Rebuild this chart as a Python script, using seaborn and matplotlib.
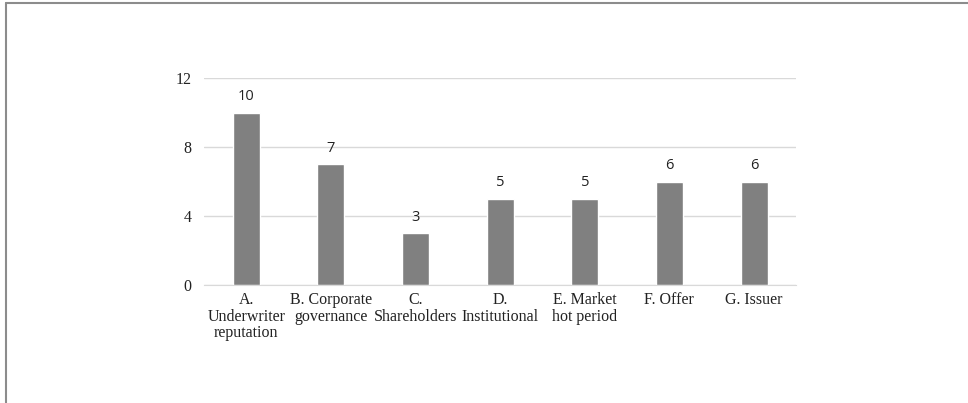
import seaborn as sns
import matplotlib.pyplot as plt
from matplotlib.lines import Line2D
import pandas as pd

# chart data
categories = ['A.\nUnderwriter\nreputation', 'B. Corporate\ngovernance', 'C.\nShareholders',
              'D.\nInstitutional', 'E. Market\nhot period', 'F. Offer', 'G. Issuer']
counts = [10, 7, 3, 5, 5, 6, 6]
y_ticks = [0, 4, 8, 12]

df = pd.DataFrame({'category': categories, 'count': counts})

sns.set_style('white')
fig = plt.figure(figsize=(9.68, 4.03), dpi=100)
ax = fig.add_axes([0.2107, 0.2928, 0.612, 0.5136])

sns.barplot(data=df, x='category', y='count', color='#808080', saturation=1,
            width=0.32, ax=ax)

for i, v in enumerate(counts):
    ax.annotate(str(v), (i, v), xytext=(0, 6), textcoords='offset points',
                ha='center', va='bottom', fontsize=10.5, family='Open Sans', color='#222222')

ax.set_ylim(0, 12)
ax.set_xlim(-0.5, len(categories) - 0.5)
ax.set_yticks(y_ticks)
ax.yaxis.grid(True, color='#d9d9d9', linewidth=1)
ax.set_axisbelow(True)
for s in ['top', 'right', 'left']:
    ax.spines[s].set_visible(False)
ax.spines['bottom'].set_color('#d9d9d9')
ax.tick_params(axis='both', length=0, labelsize=11.5, colors='#222222')
ax.tick_params(axis='y', pad=9)
ax.tick_params(axis='x', pad=5)
for lbl in ax.get_xticklabels() + ax.get_yticklabels():
    lbl.set_family('Liberation Serif')
for lbl in ax.get_xticklabels():
    lbl.set_linespacing(1.05)
ax.set_xlabel('')
ax.set_ylabel('')

# outer frame (top and left border)
fig.add_artist(Line2D([0.0062, 1.0], [0.9926, 0.9926], color='#8c8c8c', linewidth=1.5))
fig.add_artist(Line2D([0.0062, 0.0062], [0.0, 0.9926], color='#8c8c8c', linewidth=1.5))

fig.savefig('out.png', dpi=100)
